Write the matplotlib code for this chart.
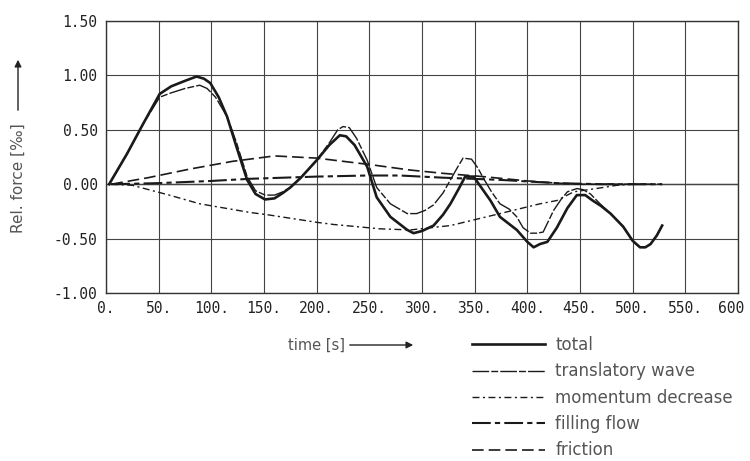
import matplotlib
matplotlib.use("Agg")
import matplotlib.pyplot as plt
import matplotlib.transforms as mtransforms

# time axis [s] and relative force [per mille]
t_total = [3, 20, 35, 51, 62, 75, 86, 93, 99, 107, 115, 124, 134, 142, 151, 160, 168, 175,
           185, 200, 212, 222, 228, 236, 248, 257, 270, 286, 292, 300, 311, 320, 327, 335,
           341, 349, 357, 365, 374, 390, 400, 406, 412, 419, 428, 438, 447, 455, 462, 470,
           479, 491, 500, 507, 512, 517, 523, 528]
total = [0.0, 0.28, 0.55, 0.83, 0.90, 0.95, 0.99, 0.97, 0.93, 0.80, 0.62, 0.34, 0.04, -0.09,
         -0.14, -0.13, -0.08, -0.03, 0.06, 0.22, 0.36, 0.45, 0.44, 0.36, 0.16, -0.12, -0.30,
         -0.42, -0.45, -0.43, -0.38, -0.28, -0.18, -0.04, 0.07, 0.07, -0.04, -0.15, -0.30,
         -0.42, -0.53, -0.58, -0.55, -0.53, -0.40, -0.22, -0.10, -0.10, -0.15, -0.20, -0.27,
         -0.39, -0.52, -0.58, -0.58, -0.55, -0.47, -0.38]

t_wave = [3, 20, 35, 51, 62, 75, 89, 96, 104, 115, 124, 134, 142, 151, 160, 168, 175, 185,
          200, 212, 220, 225, 231, 238, 248, 257, 270, 286, 295, 303, 311, 320, 327, 334,
          339, 347, 353, 358, 366, 374, 383, 390, 396, 403, 409, 415, 425, 432, 438, 447,
          453, 460, 469, 479, 491, 500, 507, 512, 517, 523, 528]
wave = [0.0, 0.28, 0.55, 0.80, 0.84, 0.88, 0.91, 0.88, 0.80, 0.62, 0.38, 0.07, -0.06, -0.10,
        -0.10, -0.07, -0.03, 0.06, 0.22, 0.38, 0.50, 0.53, 0.52, 0.42, 0.22, -0.03, -0.18,
        -0.27, -0.27, -0.24, -0.19, -0.08, 0.04, 0.16, 0.24, 0.23, 0.15, 0.06, -0.07, -0.18,
        -0.23, -0.30, -0.40, -0.45, -0.45, -0.44, -0.24, -0.14, -0.07, -0.04, -0.05, -0.09,
        -0.18, -0.27, -0.39, -0.52, -0.58, -0.58, -0.55, -0.47, -0.38]

t_momentum = [5, 25, 60, 89, 137, 153, 200, 216, 260, 289, 327, 374, 412, 428, 444, 472, 485, 500]
momentum = [0.0, -0.01, -0.10, -0.18, -0.26, -0.28, -0.35, -0.37, -0.41, -0.42, -0.38, -0.27,
            -0.18, -0.15, -0.07, -0.03, -0.01, 0.0]

t_filling = [5, 50, 100, 137, 200, 248, 279, 320, 374, 428, 470, 528]
filling = [0.0, 0.01, 0.03, 0.05, 0.07, 0.08, 0.08, 0.06, 0.04, 0.01, 0.0, 0.0]

t_friction = [5, 40, 80, 120, 160, 200, 251, 289, 320, 358, 400, 428, 450, 490, 528]
friction = [0.0, 0.06, 0.14, 0.21, 0.26, 0.24, 0.18, 0.13, 0.10, 0.07, 0.03, 0.01, 0.0, 0.0, 0.0]

xticks = list(range(0, 601, 50))
xtick_labels = [f"{v}." for v in xticks[:-1]] + ["600"]
yticks = [-1.0, -0.5, 0.0, 0.5, 1.0, 1.5]
ytick_labels = ["-1.00", "-0.50", "0.00", "0.50", "1.00", "1.50"]

fig = plt.figure(figsize=(7.5, 4.61), dpi=100)
ax = fig.add_axes([0.1413, 0.3644, 0.8427, 0.59])

ink = "#1a1a1a"
ax.plot(t_total, total, color=ink, lw=1.9, label="total")
ax.plot(t_wave, wave, color=ink, lw=1.0, dashes=(12, 1.5, 5, 1.5), label="translatory wave")
ax.plot(t_momentum, momentum, color=ink, lw=1.0, dashes=(5, 2.5, 1.5, 2.5), label="momentum decrease")
ax.plot(t_filling, filling, color=ink, lw=1.5, dashes=(9, 2, 2.5, 2), label="filling flow")
ax.plot(t_friction, friction, color=ink, lw=1.2, dashes=(7, 3), label="friction")

ax.set_xlim(0, 600)
ax.set_ylim(-1.0, 1.5)
ax.set_xticks(xticks)
ax.set_xticklabels(xtick_labels)
ax.set_yticks(yticks)
ax.set_yticklabels(ytick_labels)
ax.tick_params(length=0, pad=6, labelsize=10.5, colors="#222222")
for lab in ax.get_xticklabels() + ax.get_yticklabels():
    lab.set_family("DejaVu Sans Mono")
# last x label sits at the figure edge, nudge it inwards
last = ax.get_xticklabels()[-1]
last.set_transform(last.get_transform() + mtransforms.ScaledTranslation(-7 / 100, 0, fig.dpi_scale_trans))
ax.grid(True, color="#444444", lw=0.8)
for s in ax.spines.values():
    s.set_color("#333333")
    s.set_linewidth(1.0)
ax.axhline(0, color="#333333", lw=1.0, zorder=1)

# axis titles with arrows, as in the printed original
fig.text(18 / 750, 1 - 178 / 461, "Rel. force [‰]", rotation=90, ha="center", va="center",
         fontsize=11, color="#555555")
ax.annotate("", xy=(18 / 750, 1 - 57 / 461), xytext=(18 / 750, 1 - 113 / 461),
            xycoords="figure fraction",
            arrowprops=dict(arrowstyle="-|>", color="#222222", lw=1.0, mutation_scale=10))
fig.text(345 / 750, 1 - 345 / 461, "time [s]", ha="right", va="center", fontsize=10.5, color="#555555")
ax.annotate("", xy=(416 / 750, 1 - 345 / 461), xytext=(347 / 750, 1 - 345 / 461),
            xycoords="figure fraction",
            arrowprops=dict(arrowstyle="-|>", color="#222222", lw=1.0, mutation_scale=10))

leg = ax.legend(loc="upper left", bbox_to_anchor=(472 / 750, 1 - 336 / 461),
                bbox_transform=fig.transFigure, frameon=False, fontsize=12,
                handlelength=4.4, handletextpad=0.6, labelspacing=0.5, borderpad=0,
                borderaxespad=0)
for txt in leg.get_texts():
    txt.set_color("#555555")

fig.savefig("out.png", dpi=100)
